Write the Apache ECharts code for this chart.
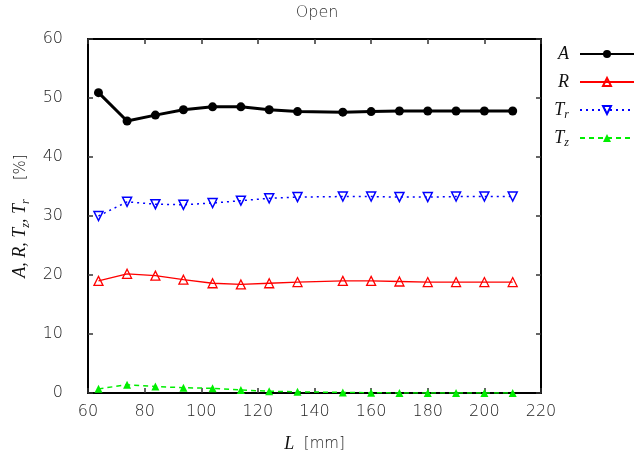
<!DOCTYPE html>
<html><head><meta charset="utf-8">
<script src="https://cdn.jsdelivr.net/npm/echarts@6/dist/echarts.min.js"></script>
<style>html,body{margin:0;padding:0;background:#fff}#c{width:634px;height:456px}</style>
</head><body><div id="c"></div>
<script>
const L  = [63.7, 73.8, 83.8, 93.7, 104, 114, 124, 134, 150, 160, 170, 180, 190, 200, 210];
const A  = [50.9, 46.1, 47.1, 48.0, 48.5, 48.5, 48.0, 47.7, 47.6, 47.7, 47.8, 47.8, 47.8, 47.8, 47.8];
const R  = [19.0, 20.2, 19.9, 19.2, 18.6, 18.4, 18.6, 18.8, 19.0, 19.0, 18.9, 18.8, 18.8, 18.8, 18.8];
const Tr = [30.0, 32.4, 32.0, 31.9, 32.2, 32.6, 33.0, 33.2, 33.3, 33.3, 33.2, 33.2, 33.3, 33.3, 33.3];
const Tz = [0.7, 1.4, 1.1, 0.9, 0.8, 0.5, 0.3, 0.2, 0.1, 0.05, 0.0, 0.0, 0.0, 0.0, 0.0];
const xMin = 60, xMax = 220, xStep = 20;
const yMin = 0, yMax = 60, yStep = 10;
const seriesNames = ['A', 'R', 'Tr', 'Tz'];
const titleText = 'Open';

const SANS = '"DejaVu Sans"';
const SERIF = '"Liberation Serif"';
const rich = {
  v: {fontFamily: SERIF, fontStyle: 'italic', fontSize: 18, color: '#111', lineHeight: 22, verticalAlign: 'middle'},
  s: {fontFamily: SERIF, fontStyle: 'italic', fontSize: 12, color: '#111', lineHeight: 12, verticalAlign: 'bottom'},
  n: {fontFamily: SANS, fontWeight: 200, fontSize: 15, color: '#222', lineHeight: 22, verticalAlign: 'middle'},
  g: {width: 6, lineHeight: 22}
};
const legendLabel = {A: '{v|A}{g|}', R: '{v|R}{g|}', Tr: '{v|T}{s|r}{g|}', Tz: '{v|T}{s|z}{g|}'};

const pairs = arr => L.map((x, i) => [x, arr[i]]);
const chart = echarts.init(document.getElementById('c'), null, {renderer: 'canvas'});

const axisCommon = {
  axisLine: {show: true, onZero: false, lineStyle: {color: '#000', width: 2}},
  axisTick: {show: true, inside: true, length: 5, lineStyle: {color: '#333', width: 1.5}},
  splitLine: {show: false}
};
const lbl = {fontFamily: SANS, fontWeight: 200, fontSize: 16, color: '#222'};

const legendTops = [45, 73, 101, 129];
const option = {
  backgroundColor: '#fff',
  animation: false,
  title: {text: titleText, left: 'center', top: 0, textStyle: {fontFamily: SANS, fontWeight: 200, fontSize: 16, color: '#333'}},
  grid: {left: 88, right: 93, top: 39, bottom: 63, containLabel: false, outerBoundsMode: 'none'},
  legend: seriesNames.map((n, i) => ({
    data: [n], orient: 'vertical', right: -1, top: legendTops[i], padding: 0,
    align: 'right', itemWidth: 54, itemHeight: 10, selectedMode: false,
    formatter: name => legendLabel[name],
    textStyle: {rich: rich}
  })),
  xAxis: [
    Object.assign({type: 'value', min: xMin, max: xMax, interval: xStep, position: 'bottom',
      name: '{v|L}{n|  [mm]}', nameLocation: 'middle', nameGap: 40, nameTextStyle: {rich: rich},
      axisLabel: Object.assign({margin: 11}, lbl)}, axisCommon),
    Object.assign({type: 'value', min: xMin, max: xMax, interval: xStep, position: 'top',
      axisLabel: {show: false}}, axisCommon)
  ],
  yAxis: [
    Object.assign({type: 'value', min: yMin, max: yMax, interval: yStep, position: 'left',
      name: '{v|A, R, T}{s|z}{v|, T}{s|r}{n|    [%]}', nameLocation: 'middle', nameGap: 54, nameRotate: 90,
      nameTextStyle: {rich: rich},
      axisLabel: Object.assign({margin: 25}, lbl)}, axisCommon),
    Object.assign({type: 'value', min: yMin, max: yMax, interval: yStep, position: 'right',
      axisLabel: {show: false}}, axisCommon)
  ],
  series: [
    {name: 'A', type: 'line', data: pairs(A), symbol: 'circle', symbolSize: 9,
      lineStyle: {color: '#000', width: 3}, itemStyle: {color: '#000'}},
    {name: 'R', type: 'line', data: pairs(R), symbol: 'triangle', symbolSize: 9,
      lineStyle: {color: '#ff0000', width: 1.3},
      itemStyle: {color: 'rgba(255,255,255,0)', borderColor: '#ff0000', borderWidth: 1.3}},
    {name: 'Tr', type: 'line', data: pairs(Tr), symbol: 'triangle', symbolRotate: 180, symbolSize: 9,
      lineStyle: {color: '#0000ff', width: 1.5, type: [2, 4]},
      itemStyle: {color: 'rgba(255,255,255,0)', borderColor: '#0000ff', borderWidth: 1.5}},
    {name: 'Tz', type: 'line', data: pairs(Tz), symbol: 'triangle', symbolSize: 8,
      lineStyle: {color: '#00ee00', width: 1.5, type: [5, 4]},
      itemStyle: {color: '#00ee00'}}
  ]
};
chart.setOption(option);
</script></body></html>
